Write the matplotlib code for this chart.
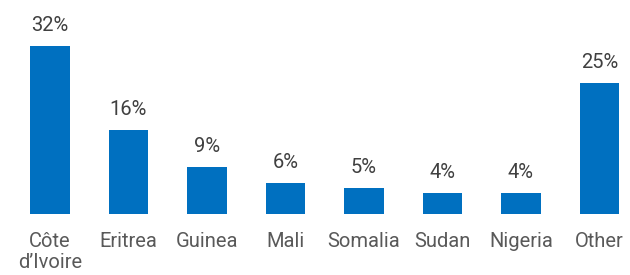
import matplotlib
matplotlib.use("Agg")
import matplotlib.pyplot as plt

# ── Дані ─────────────────────────────────────────────────────────────────────
countries = ["Côte\nd’Ivoire", "Eritrea", "Guinea", "Mali",
             "Somalia", "Sudan", "Nigeria", "Other"]
shares = [32, 16, 9, 6, 5, 4, 4, 25]

BAR_COLOR = "#0070C0"
plt.rcParams["font.family"] = ["Roboto", "DejaVu Sans"]

# ── Графік ───────────────────────────────────────────────────────────────────
fig = plt.figure(figsize=(6.3, 2.75), dpi=100)
ax = fig.add_axes([0, 0.2218, 1, 0.668])

x = range(len(countries))
bars = ax.bar(x, shares, width=0.5, color=BAR_COLOR)

for xi, v in zip(x, shares):
    ax.annotate(f"{v}%", (xi, v), xytext=(0, 10.8), textcoords="offset points",
                ha="center", va="baseline", fontsize=14.5, color="#404040")

ax.set_xlim(-50 / 78.5, 580 / 78.5)
ax.set_ylim(0, 35)
ax.set_xticks(list(x))
ax.set_xticklabels(countries, fontsize=14.5, color="#595959", linespacing=1.1)
ax.tick_params(axis="x", length=0, pad=13)
ax.set_yticks([])
for s in ax.spines.values():
    s.set_visible(False)

plt.savefig("out.png", dpi=100)
